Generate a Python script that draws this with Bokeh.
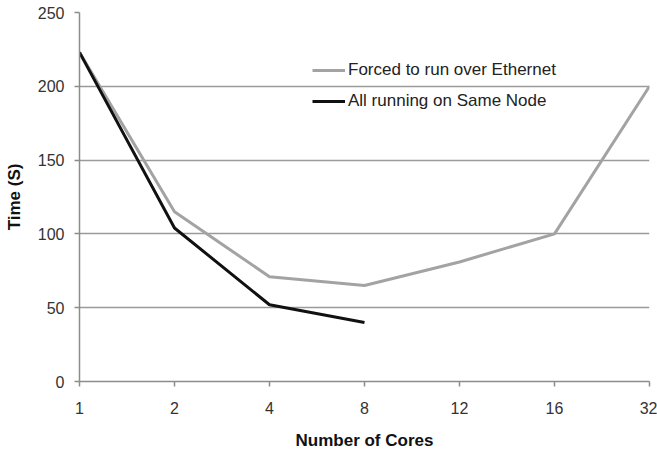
from bokeh.plotting import figure
from bokeh.models import FixedTicker, Legend, LegendItem, Range1d
from bokeh.embed import file_html
from bokeh.resources import INLINE

cores = ["1", "2", "4", "8", "12", "16", "32"]
ethernet_time = [223, 115, 71, 65, 81, 100, 200]
same_node_cores = ["1", "2", "4", "8"]
same_node_time = [223, 104, 52, 40]
y_ticks = [0, 50, 100, 150, 200, 250]

xpos = {c: i for i, c in enumerate(cores)}
eth_x = [xpos[c] for c in cores]
node_x = [xpos[c] for c in same_node_cores]

FONT = "Liberation Sans"

p = figure(width=657, height=452, output_backend="svg", toolbar_location=None,
           x_range=Range1d(0, len(cores) - 1), y_range=Range1d(0, 250),
           min_border_left=79, min_border_right=8, min_border_top=12, min_border_bottom=70)
p.outline_line_color = None
p.background_fill_color = "white"
p.border_fill_color = "white"

r_eth = p.line(eth_x, ethernet_time, line_color="#a3a3a3", line_width=3)
r_node = p.line(node_x, same_node_time, line_color="#111111", line_width=3)

p.xaxis.ticker = FixedTicker(ticks=list(range(len(cores))))
p.xaxis.major_label_overrides = {i: c for i, c in enumerate(cores)}
p.yaxis.ticker = FixedTicker(ticks=y_ticks)

p.xgrid.grid_line_color = None
p.ygrid.grid_line_color = "#9a9a9a"
p.ygrid.grid_line_width = 1.5
p.ygrid.ticker = FixedTicker(ticks=y_ticks)

for ax in (p.xaxis[0], p.yaxis[0]):
    ax.axis_line_color = "#8c8c8c"
    ax.axis_line_width = 1.5
    ax.major_tick_line_color = "#8c8c8c"
    ax.major_tick_line_width = 1.5
    ax.major_tick_in = 0
    ax.major_tick_out = 5
    ax.minor_tick_line_color = None
    ax.major_label_text_font = FONT
    ax.major_label_text_font_size = "16px"
    ax.major_label_text_color = "#333333"
    ax.axis_label_text_font = FONT
    ax.axis_label_text_font_size = "17px"
    ax.axis_label_text_font_style = "bold"
    ax.axis_label_text_color = "#111111"

p.xaxis.axis_label = "Number of Cores"
p.yaxis.axis_label = "Time (S)"
p.xaxis.major_label_standoff = 15
p.xaxis.axis_label_standoff = 14
p.yaxis.major_label_standoff = 10
p.yaxis.axis_label_standoff = 11

legend = Legend(items=[LegendItem(label="Forced to run over Ethernet", renderers=[r_eth]),
                       LegendItem(label="All running on Same Node", renderers=[r_node])],
                location=(233, 270), padding=0, margin=0, spacing=11,
                glyph_width=33, glyph_height=20, label_height=20, label_standoff=3,
                border_line_color=None, background_fill_alpha=0,
                label_text_font=FONT, label_text_font_size="17px", label_text_color="#222222")
p.add_layout(legend)

open("out.html", "w").write(file_html(p, INLINE))
